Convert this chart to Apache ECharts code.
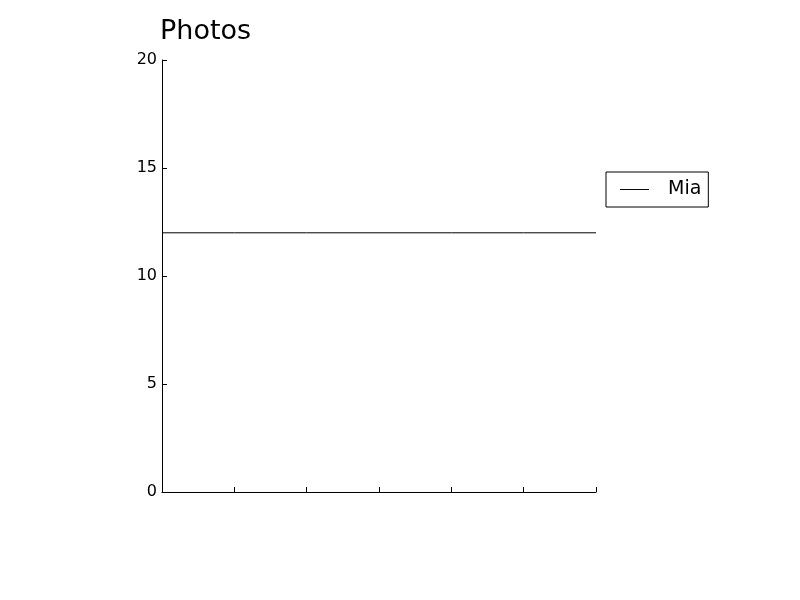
<!DOCTYPE html>
<html><head><meta charset="utf-8">
<script src="https://cdn.jsdelivr.net/npm/echarts@6/dist/echarts.min.js"></script>
<style>html,body{margin:0;padding:0;background:#fff}#c{width:800px;height:600px}</style>
</head><body><div id="c"></div>
<script>
const categories = ['0','1','2','3','4','5','6'];
const miaValues = [12,12,12,12,12,12,12];
const yTicks = [0,5,10,15,20];
const chart = echarts.init(document.getElementById('c'));
const font = 'DejaVu Sans';
chart.setOption({
  animation:false,
  backgroundColor:'#fff',
  title:{text:'Photos',left:155,top:18,padding:[0,5],textStyle:{fontFamily:font,fontSize:27,fontWeight:'normal',color:'#000'}},
  legend:{
    left:606, top:172, orient:'vertical',
    borderColor:'#000', borderWidth:1, borderRadius:0,
    padding:[8,7,8,14],
    itemWidth:29, itemHeight:20,
    textStyle:{fontFamily:font,fontSize:19,color:'#000',padding:[1,0,0,14]},
    data:[{name:'Mia',icon:'path://M0,0 L30,0 L30,1 L0,1 Z'}]
  },
  grid:{left:162,right:204,top:60,bottom:108,containLabel:false},
  xAxis:{type:'category',data:categories,boundaryGap:false,
    axisLine:{lineStyle:{color:'#000',width:1}},
    axisTick:{inside:true,length:5,lineStyle:{color:'#000'},alignWithLabel:true},
    axisLabel:{show:false},splitLine:{show:false}},
  yAxis:{type:'value',min:yTicks[0],max:yTicks[yTicks.length-1],interval:5,
    axisLine:{show:true,lineStyle:{color:'#000',width:1}},
    axisTick:{show:true,inside:true,length:5,lineStyle:{color:'#000'}},
    axisLabel:{fontFamily:font,fontSize:16,color:'#000',margin:5},
    splitLine:{show:false}},
  series:[{name:'Mia',type:'line',data:miaValues,symbol:'none',
    lineStyle:{color:'#000',width:1},itemStyle:{color:'#000'}}]
});
</script></body></html>
